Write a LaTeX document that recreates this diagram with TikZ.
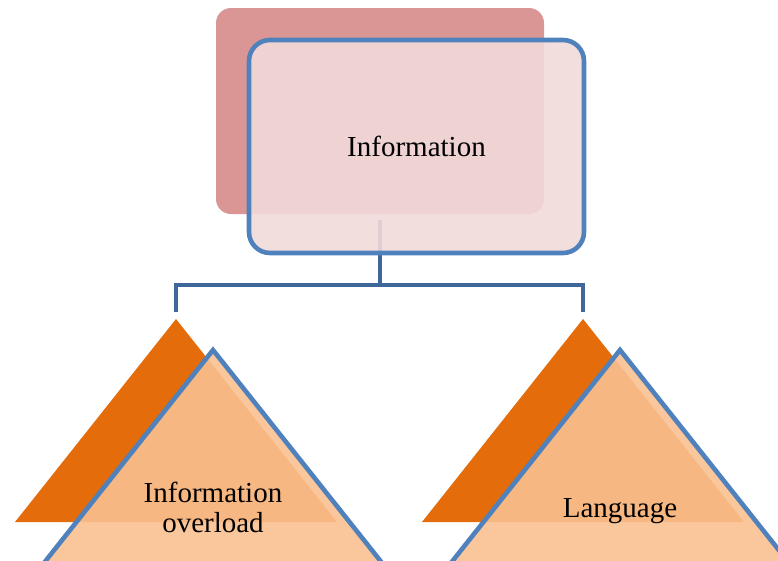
\documentclass[tikz,border=0pt]{standalone}
\usepackage{fontspec}
\setmainfont{Liberation Serif}
\definecolor{backbox}{HTML}{DA9694}
\definecolor{frontbox}{HTML}{F2DADA}
\definecolor{accentblue}{HTML}{4F81BD}
\definecolor{connblue}{HTML}{40679A}
\definecolor{backtri}{HTML}{E46C0A}
\definecolor{fronttri}{HTML}{FAC090}
\begin{document}
\begin{tikzpicture}[x=1pt,y=-1pt,
  backboxstyle/.style={fill=backbox,draw=none,rounded corners=15pt},
  frontboxstyle/.style={rectangle,fill=frontbox,fill opacity=0.9,text opacity=1,draw=accentblue,line width=4.6pt,rounded corners=21pt,minimum width=335pt,minimum height=213pt,inner sep=0pt},
  connstyle/.style={draw=connblue,line width=4pt,line join=miter},
  backtristyle/.style={fill=backtri,draw=none},
  fronttristyle/.style={fill=fronttri,fill opacity=0.9,draw=accentblue,draw opacity=1,line width=4.6pt,line join=miter},
  labelstyle/.style={font=\fontsize{29}{30}\selectfont,align=center,inner sep=0pt,text=black}
]
\useasboundingbox (0,0) rectangle (778,560);
\clip (0,0) rectangle (778,560);
% back box
\fill[backboxstyle] (216,8) rectangle (544,214);
% connector
\coordinate (cstart) at (380,220);
\coordinate (cmid) at (380,285);
\coordinate (lend) at (176,312);
\coordinate (rend) at (583,312);
\draw[connstyle] (cstart) -- (cmid);
\draw[connstyle] (lend) |- (cmid) -| (rend);
% front box
\node[frontboxstyle] (info) at (416.5,146.5) {};
\node[labelstyle] (infotext) at (info.center) {Information};
% left triangles
\fill[backtristyle] (176,319) -- (337,522) -- (15,522) -- cycle;
\draw[fronttristyle] (213,350) -- (394,578) -- (32,578) -- cycle;
\node[labelstyle] (overload) at (213,507.5) {Information\\overload};
% right triangles
\fill[backtristyle] (583,319) -- (744,522) -- (422,522) -- cycle;
\draw[fronttristyle] (620,350) -- (801,578) -- (439,578) -- cycle;
\node[labelstyle,anchor=base] (language) at (620,517) {Language};
\end{tikzpicture}
\end{document}
